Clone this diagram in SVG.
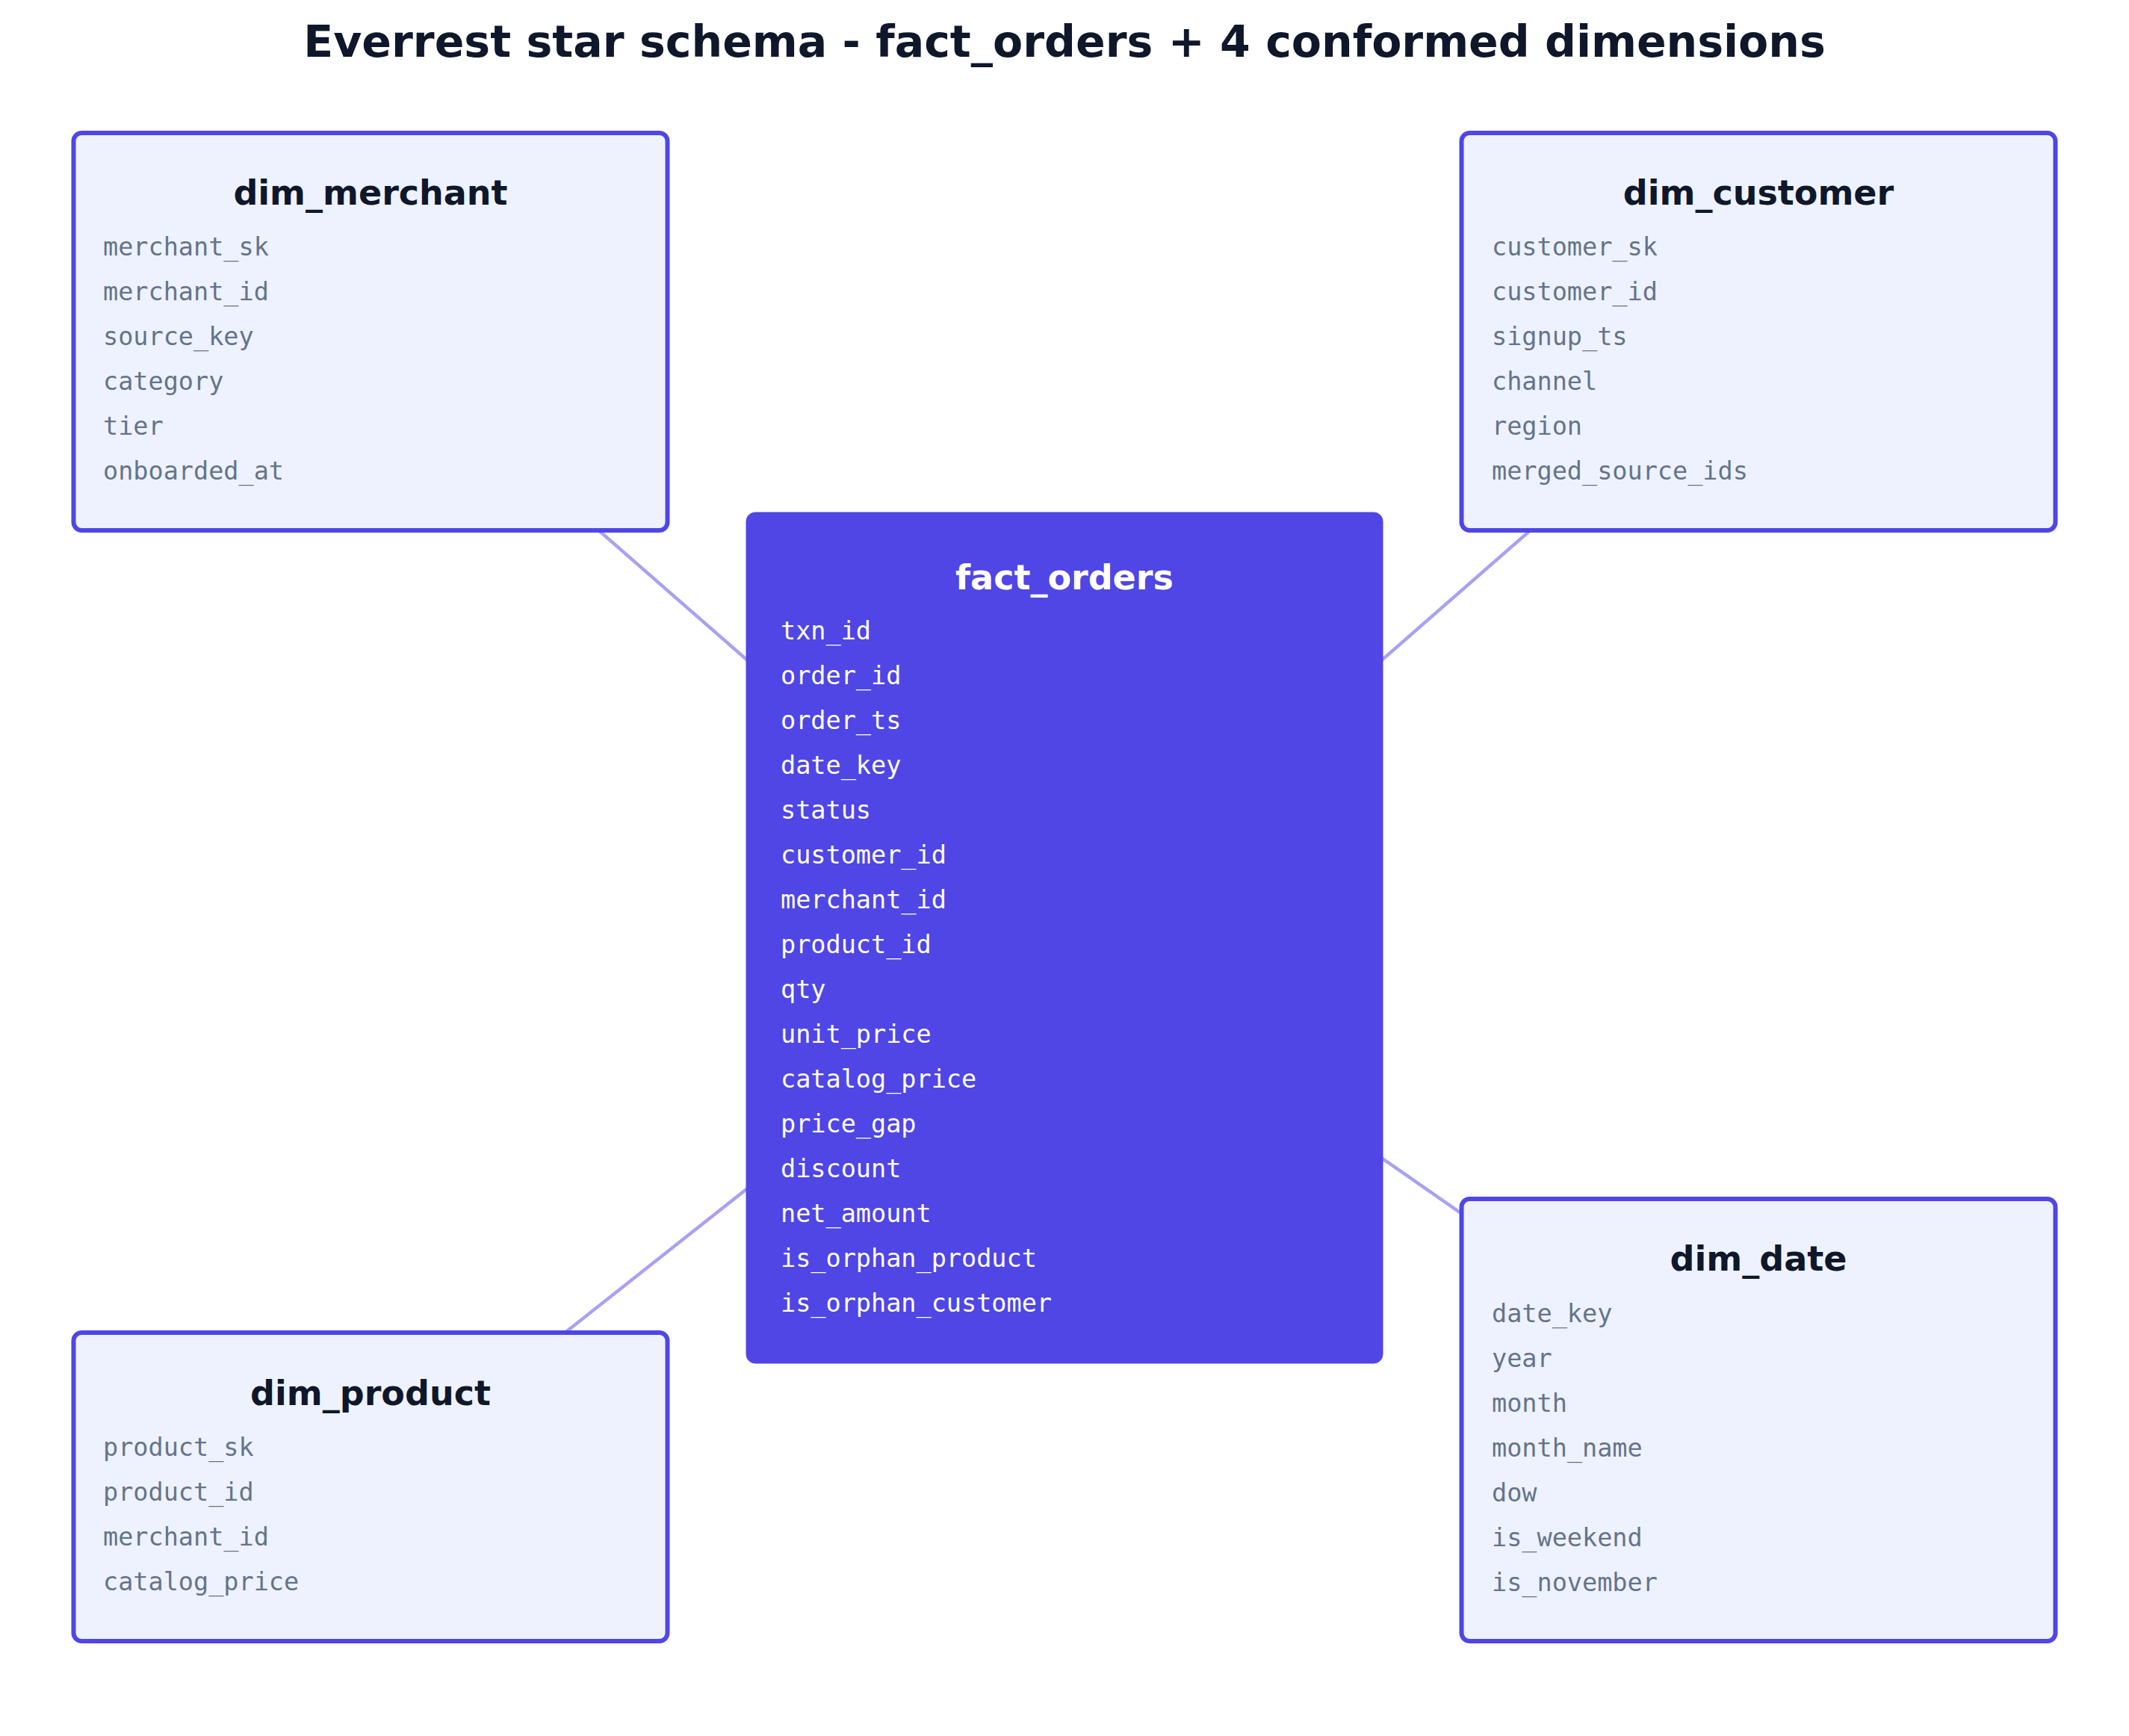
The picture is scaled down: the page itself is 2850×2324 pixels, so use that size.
<svg xmlns="http://www.w3.org/2000/svg" width="2850" height="2324" viewBox="0 0 2850 2324">
<style>
.title{font-family:"DejaVu Sans",Verdana,sans-serif;font-weight:bold;font-size:58.5px;fill:#0F172A;text-anchor:middle}
.dim rect{fill:#EEF2FF;stroke:#4F46E5;stroke-width:6}
.fact rect{fill:#4F46E5;stroke:#4F46E5;stroke-width:1}
.hdr{font-family:"DejaVu Sans",Verdana,sans-serif;font-weight:bold;font-size:46px;text-anchor:middle}
.dim .hdr{fill:#0F172A}
.fact .hdr{fill:#FFFFFF}
.fld{font-family:"DejaVu Sans Mono","Liberation Mono",monospace;font-size:33.5px}
.dim .fld{fill:#64748B}
.fact .fld{fill:#FFFFFF}
.conn line{stroke:#4F46E5;stroke-opacity:0.5;stroke-width:4.5}
</style>
<rect width="2850" height="2324" fill="#FFFFFF"/>
<text class="title" x="1425" y="76">Everrest star schema - fact_orders + 4 conformed dimensions</text>
<g id="connectors" class="conn">
<line x1="496" y1="443" x2="1425" y2="1255"/>
<line x1="2354" y1="443" x2="1425" y2="1255"/>
<line x1="496" y1="1990" x2="1425" y2="1255"/>
<line x1="2354" y1="1901" x2="1425" y2="1255"/>
</g>
<g id="dim_merchant" class="dim">
<rect x="98.5" y="178" width="795" height="532" rx="11"/>
<text class="hdr" x="496" y="274">dim_merchant</text>
<text class="fld" x="138" y="342">merchant_sk</text>
<text class="fld" x="138" y="402">merchant_id</text>
<text class="fld" x="138" y="462">source_key</text>
<text class="fld" x="138" y="522">category</text>
<text class="fld" x="138" y="582">tier</text>
<text class="fld" x="138" y="642">onboarded_at</text>
</g>
<g id="dim_customer" class="dim">
<rect x="1956.5" y="178" width="795" height="532" rx="11"/>
<text class="hdr" x="2354" y="274">dim_customer</text>
<text class="fld" x="1997" y="342">customer_sk</text>
<text class="fld" x="1997" y="402">customer_id</text>
<text class="fld" x="1997" y="462">signup_ts</text>
<text class="fld" x="1997" y="522">channel</text>
<text class="fld" x="1997" y="582">region</text>
<text class="fld" x="1997" y="642">merged_source_ids</text>
</g>
<g id="fact_orders" class="fact">
<rect x="999" y="686" width="852" height="1139" rx="12"/>
<text class="hdr" x="1425" y="789">fact_orders</text>
<text class="fld" x="1045" y="856">txn_id</text>
<text class="fld" x="1045" y="916">order_id</text>
<text class="fld" x="1045" y="976">order_ts</text>
<text class="fld" x="1045" y="1036">date_key</text>
<text class="fld" x="1045" y="1096">status</text>
<text class="fld" x="1045" y="1156">customer_id</text>
<text class="fld" x="1045" y="1216">merchant_id</text>
<text class="fld" x="1045" y="1276">product_id</text>
<text class="fld" x="1045" y="1336">qty</text>
<text class="fld" x="1045" y="1396">unit_price</text>
<text class="fld" x="1045" y="1456">catalog_price</text>
<text class="fld" x="1045" y="1516">price_gap</text>
<text class="fld" x="1045" y="1576">discount</text>
<text class="fld" x="1045" y="1636">net_amount</text>
<text class="fld" x="1045" y="1696">is_orphan_product</text>
<text class="fld" x="1045" y="1756">is_orphan_customer</text>
</g>
<g id="dim_product" class="dim">
<rect x="98.5" y="1784" width="795" height="413" rx="11"/>
<text class="hdr" x="496" y="1881">dim_product</text>
<text class="fld" x="138" y="1949">product_sk</text>
<text class="fld" x="138" y="2009">product_id</text>
<text class="fld" x="138" y="2069">merchant_id</text>
<text class="fld" x="138" y="2129">catalog_price</text>
</g>
<g id="dim_date" class="dim">
<rect x="1956.5" y="1605" width="795" height="592" rx="11"/>
<text class="hdr" x="2354" y="1701">dim_date</text>
<text class="fld" x="1997" y="1770">date_key</text>
<text class="fld" x="1997" y="1830">year</text>
<text class="fld" x="1997" y="1890">month</text>
<text class="fld" x="1997" y="1950">month_name</text>
<text class="fld" x="1997" y="2010">dow</text>
<text class="fld" x="1997" y="2070">is_weekend</text>
<text class="fld" x="1997" y="2130">is_november</text>
</g>
</svg>
